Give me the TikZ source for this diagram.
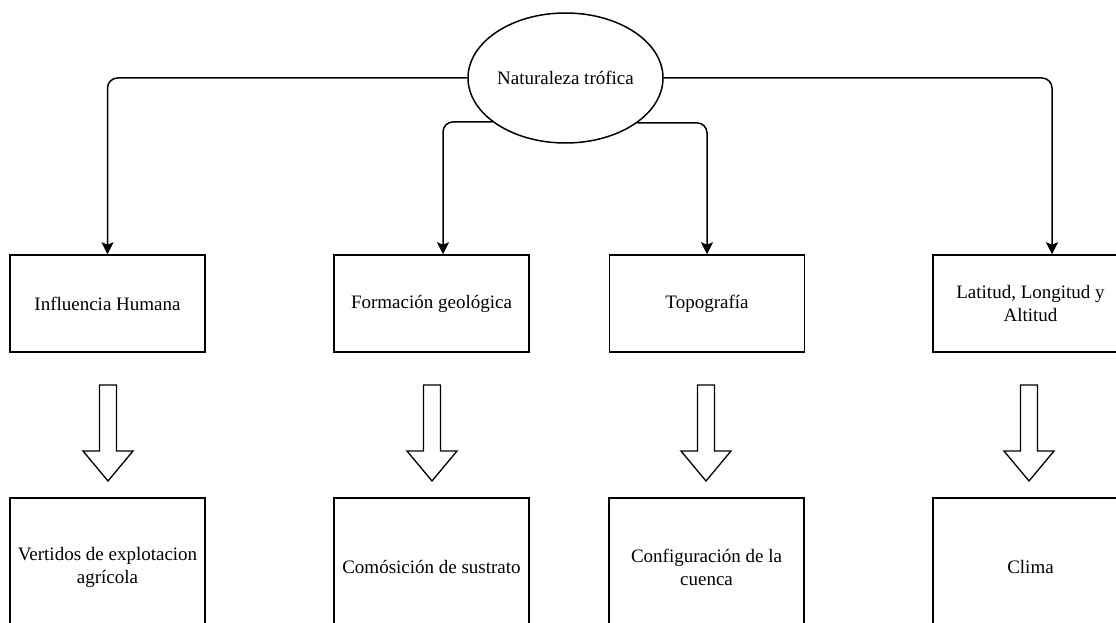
\documentclass[tikz,border=0pt]{standalone}
\usepackage{fontspec}
\setmainfont{Liberation Serif}
\usetikzlibrary{shapes.geometric,arrows.meta}
\begin{document}
\begin{tikzpicture}[x=1pt,y=-1pt,
  every node/.style={font=\fontsize{19}{23}\selectfont},
  box/.style={draw, line width=1.5pt, minimum width=195pt, minimum height=97pt,
    inner sep=0pt, align=center},
  tallbox/.style={box, minimum height=138pt},
  link/.style={draw, line width=1.5pt, rounded corners=10pt,
    -{Stealth[length=12pt,width=12pt,inset=2.5pt]}},
  hollow/.pic={\draw[line width=1.3pt, line join=miter, fill=white]
    (-8.5,0) -- (8.5,0) -- (8.5,66) -- (25,66) -- (0,96) -- (-25,66) -- (-8.5,66) -- cycle;}
]
\useasboundingbox (0,0) rectangle (1116,623);
\clip (0,0) rectangle (1116,623);

% root
\node[ellipse, draw, line width=1.5pt, minimum width=195pt, minimum height=130pt,
  inner sep=0pt] (root) at (565.5,78) {Naturaleza trófica};

% factors
\node[box] (b1) at (107.5,303.5) {Influencia Humana};
\node[box] (b2) at (431.5,303.5) {Formación geológica};
\node[box] (b3) at (707,303.5) {Topografía};
\node[box] (b4) at (1030.5,303.5) {Latitud, Longitud y\\Altitud};

% consequences
\node[tallbox] (c1) at (107.5,567) {Vertidos de explotacion\\agrícola};
\node[tallbox] (c2) at (431.5,567) {Comósición de sustrato};
\node[tallbox] (c3) at (706.5,567) {Configuración de la\\cuenca};
\node[tallbox] (c4) at (1030.5,567) {Clima};

% connectors from the root
\draw[link] (root.west) -| (b1.north);
\draw[link] (root.211) -| ([xshift=11.5pt]b2.north);
\draw[link] (root.328) -| (b3.north);
\draw[link] (root.east) -| ([xshift=21.5pt]b4.north);

% hollow block arrows
\pic at (108,385) {hollow};
\pic at (432,385) {hollow};
\pic at (706,385) {hollow};
\pic at (1029,385) {hollow};
\end{tikzpicture}
\end{document}
